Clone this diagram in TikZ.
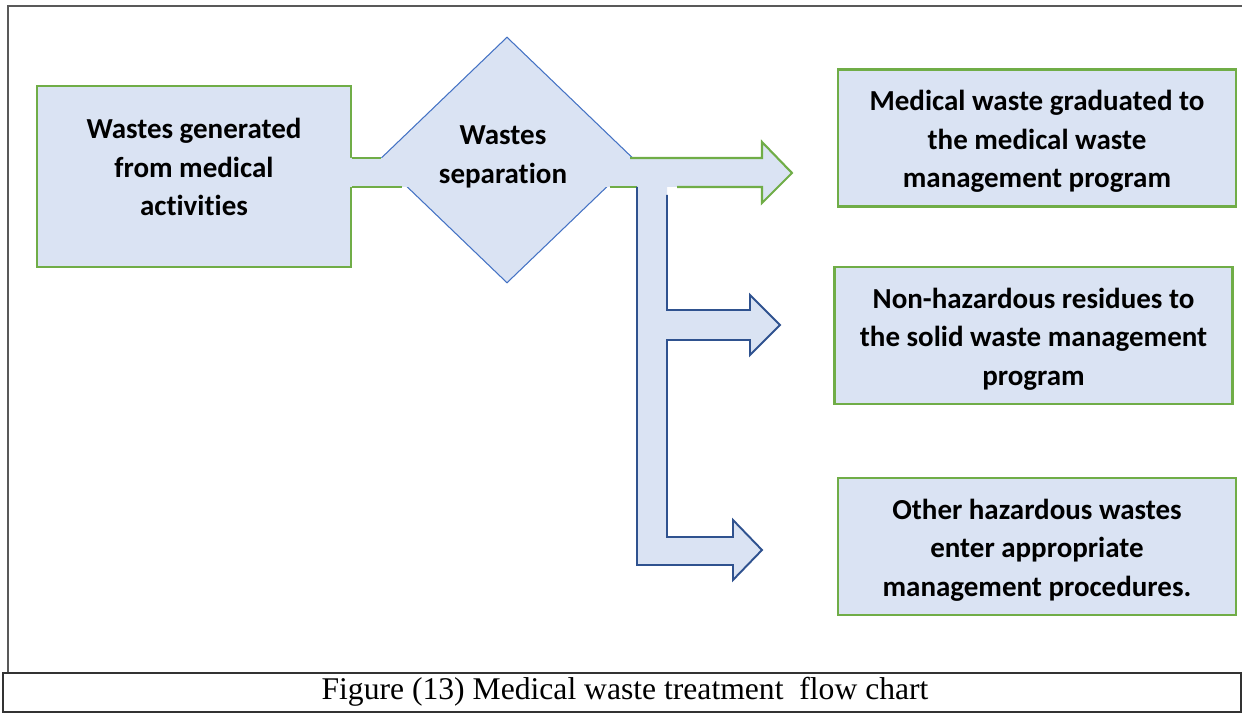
\documentclass[tikz,border=0pt]{standalone}
\usepackage{fontspec}
\setmainfont{Liberation Serif}
\newfontfamily\calibri[Ligatures={NoCommon}]{Carlito}
\usepackage{tikz}
\usetikzlibrary{shapes.geometric}
\definecolor{boxfill}{HTML}{DAE3F3}
\definecolor{boxgreen}{HTML}{70AD47}
\definecolor{linkblue}{HTML}{4472C4}
\definecolor{darkblue}{HTML}{2F528F}
\definecolor{framegray}{HTML}{595959}

\begin{document}
\begin{tikzpicture}[x=0.02cm,y=-0.02cm,
    wastebox/.style={draw=boxgreen,line width=1.2pt,fill=boxfill,minimum width=7.96cm,minimum height=2.74cm,inner sep=0pt},
    wastetext/.style={align=center,font=\calibri\bfseries\fontsize{16.5}{21.9}\selectfont},
    greenline/.style={draw=boxgreen,line width=1.2pt},
    blueline/.style={draw=darkblue,line width=1.1pt}]
  \useasboundingbox (0,0) rectangle (1242,713);
  % frame and caption
  \draw[framegray,line width=1pt] (1242,6) -- (8,6) -- (8,673);
  \draw[black!80,line width=0.8pt] (3,673) rectangle (1241,712);
  \node (caption) at (625,692) {\fontsize{18}{21}\selectfont Figure (13) Medical waste treatment\ \ flow chart};

  % boxes
  \node[wastebox,minimum width=6.28cm,minimum height=3.62cm] (generated) at (194,176.5) {};
  \node[diamond,draw=linkblue,line width=0.6pt,fill=boxfill,minimum width=5.12cm,minimum height=4.92cm,inner sep=0pt] (separation) at (507,160) {};
  \node[wastebox] (medical) at (1037,138) {};
  \node[wastebox] (solid) at (1033.5,335.5) {};
  \node[wastebox] (other) at (1037,546.5) {};

  \coordinate (tipA) at (792,173);
  \coordinate (tipB) at (780,325);
  \coordinate (tipC) at (762,550);

  % main block arrow
  \fill[boxfill] (349,158) -- (762,158) -- (762,142) -- (tipA) -- (762,203) -- (762,187) -- (349,187) -- cycle;
  \draw[greenline] (generated.east |- 0,158) -- (381,158);
  \draw[greenline] (generated.east |- 0,187) -- (402,187);
  \draw[greenline] (630,158) -- (762,158) -- (762,142) -- (tipA) -- (762,203) -- (762,187) -- (677,187);
  \draw[greenline] (610,187) -- (637,187);

  % branch arrows
  \fill[boxfill] (637,186) -- (667,186) -- (667,310) -- (750,310) -- (750,295) -- (tipB) -- (750,355) -- (750,340)
    -- (667,340) -- (667,537) -- (733,537) -- (733,520) -- (tipC) -- (733,580) -- (733,565) -- (637,565) -- cycle;
  \draw[blueline] (637,187) -- (637,565) -- (733,565) -- (733,580) -- (tipC) -- (733,520) -- (733,537) -- (667,537)
    -- (667,340) -- (750,340) -- (750,355) -- (tipB) -- (750,295) -- (750,310) -- (667,310) -- (667,195);

  % texts
  \node[wastetext] at (194,167) {Wastes generated\\from medical\\activities};
  \node[wastetext] at (503,157) {Wastes\\separation};
  \node[wastetext] at ([yshift=-2]medical) {Medical waste graduated to\\the medical waste\\management program};
  \node[wastetext] at ([yshift=-2]solid) {Non-hazardous residues to\\the solid waste management\\program};
  \node[wastetext] at ([yshift=-2]other) {Other hazardous wastes\\enter appropriate\\management procedures.};
\end{tikzpicture}
\end{document}
